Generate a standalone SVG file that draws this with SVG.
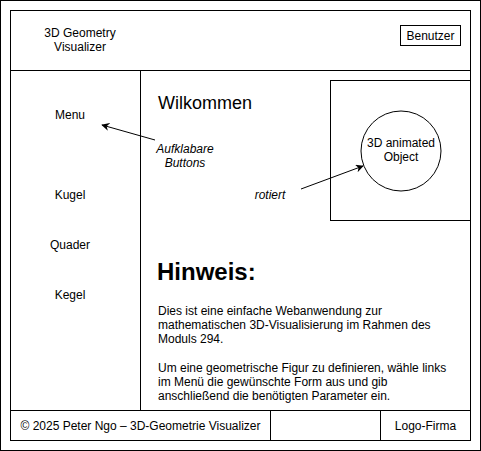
<svg xmlns="http://www.w3.org/2000/svg" width="481" height="451" viewBox="0 0 481 451">
  <style>
    .box { fill: #ffffff; stroke: #000000; stroke-width: 1; }
    .txt { font-family: "Liberation Sans", Arial, sans-serif; font-size: 12px; fill: #000000; }
    .mid { text-anchor: middle; }
    .it { font-style: italic; }
    .title { font-size: 18px; }
    .heading { font-size: 24px; font-weight: bold; }
    .conn { stroke: #000000; stroke-width: 1; fill: none; marker-end: url(#arrow); }
  </style>
  <defs>
    <marker id="arrow" viewBox="0 0 10 10" refX="9" refY="5" markerWidth="8" markerHeight="8" markerUnits="userSpaceOnUse" orient="auto">
      <path d="M0,0 L10,5 L0,10 L3,5 Z" fill="#000000"/>
    </marker>
  </defs>

  <rect id="page" class="box" x="0.5" y="0.5" width="480" height="450"/>

  <g id="header">
    <rect class="box" x="10.5" y="10.5" width="460" height="60"/>
    <text class="txt mid" x="80" y="37">3D Geometry</text>
    <text class="txt mid" x="80" y="51">Visualizer</text>
  </g>
  <g id="user">
    <rect class="box" x="400.5" y="25.5" width="60" height="20"/>
    <text class="txt mid" x="430.5" y="40">Benutzer</text>
  </g>

  <g id="sidebar">
    <rect class="box" x="10.5" y="70.5" width="130" height="340"/>
    <text class="txt mid" x="70" y="119">Menu</text>
    <text class="txt mid" x="70" y="199">Kugel</text>
    <text class="txt mid" x="70" y="249">Quader</text>
    <text class="txt mid" x="70" y="299">Kegel</text>
  </g>

  <g id="content">
    <rect class="box" x="140.5" y="70.5" width="330" height="340"/>
    <text class="txt title" x="158" y="109">Wilkommen</text>
    <text class="txt heading" x="157" y="280">Hinweis:</text>
    <text class="txt" x="158" y="315">Dies ist eine einfache Webanwendung zur</text>
    <text class="txt" x="158" y="329">mathematischen 3D-Visualisierung im Rahmen des</text>
    <text class="txt" x="158" y="343">Moduls 294.</text>
    <text class="txt" x="158" y="372">Um eine geometrische Figur zu definieren, wähle links</text>
    <text class="txt" x="158" y="386">im Menü die gewünschte Form aus und gib</text>
    <text class="txt" x="158" y="400">anschließend die benötigten Parameter ein.</text>
  </g>

  <g id="viewport">
    <rect class="box" x="330.5" y="80.5" width="140" height="140"/>
  </g>
  <g id="object3d">
    <circle class="box" cx="401" cy="151" r="40"/>
    <text class="txt mid" x="401" y="147">3D animated</text>
    <text class="txt mid" x="401" y="161">Object</text>
  </g>

  <g id="notes">
    <text class="txt mid it" x="185" y="153">Aufklabare</text>
    <text class="txt mid it" x="185" y="167">Buttons</text>
    <text class="txt mid it" x="270" y="199">rotiert</text>
  </g>

  <g id="footer">
    <rect class="box" x="10.5" y="410.5" width="260" height="30"/>
    <rect class="box" x="270.5" y="410.5" width="110" height="30"/>
    <rect class="box" x="380.5" y="410.5" width="90" height="30"/>
    <text class="txt mid" x="140.5" y="430">© 2025 Peter Ngo – 3D-Geometrie Visualizer</text>
    <text class="txt mid" x="425.5" y="430">Logo-Firma</text>
  </g>

  <g id="connectors">
    <line class="conn" x1="155" y1="140" x2="102" y2="125"/>
    <line class="conn" x1="301" y1="189" x2="363" y2="166"/>
  </g>
</svg>
